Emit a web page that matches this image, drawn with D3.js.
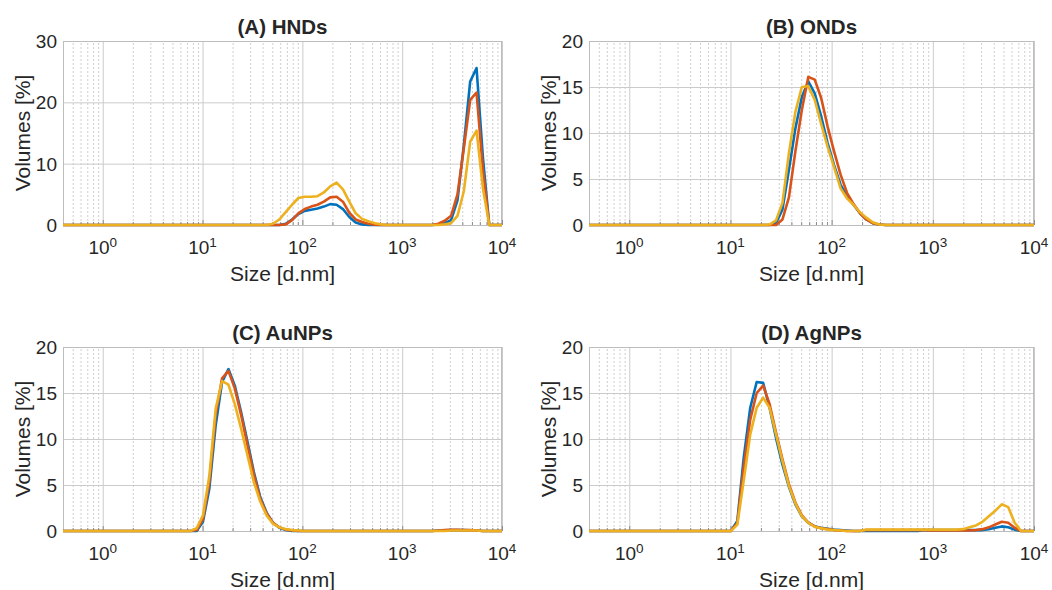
<!DOCTYPE html>
<html>
<head>
<meta charset="utf-8">
<script src="https://cdn.jsdelivr.net/npm/d3@7"></script>
<style>
  body { margin: 0; background: #fff; }
  text { font-family: "Liberation Sans", Arial, Helvetica, sans-serif; fill: #262626; }
</style>
</head>
<body>
<div id="chart"></div>
<script>
// size bins [d.nm]
var sizes = [
  0.4, 0.4632, 0.5365, 0.6213, 0.7195, 0.8332, 0.9649, 1.117, 1.294, 1.499,
  1.736, 2.01, 2.328, 2.696, 3.122, 3.615, 4.187, 4.849, 5.615, 6.503,
  7.531, 8.721, 10.1, 11.7, 13.54, 15.69, 18.17, 21.04, 24.36, 28.21,
  32.67, 37.84, 43.82, 50.75, 58.77, 68.06, 78.82, 91.28, 105.7, 122.4,
  141.8, 164.2, 190.1, 220.2, 255.0, 295.3, 342.0, 396.1, 458.7, 531.2,
  615.1, 712.4, 825.0, 955.4, 1106, 1281, 1484, 1718, 1990, 2305,
  2669, 3091, 3580, 4145, 4801, 5560, 6439, 7456, 8635, 10000
];

// (A) HNDs
var hndBlue = [
  0,0,0,0,0,0,0,0,0,0,
  0,0,0,0,0,0,0,0,0,0,
  0,0,0,0,0,0,0,0,0,0,
  0,0,0,0,0,0.2,0.9,1.8,2.3,2.5,
  2.7,3.0,3.4,3.3,2.6,1.3,0.4,0.1,0,0,
  0,0,0,0,0,0,0,0,0,0.1,
  0.3,0.8,4,13,23.4,25.6,11,0,0,0
];
var hndOrange = [
  0,0,0,0,0,0,0,0,0,0,
  0,0,0,0,0,0,0,0,0,0,
  0,0,0,0,0,0,0,0,0,0,
  0,0,0,0,0,0.1,0.8,1.9,2.6,3.0,
  3.3,3.8,4.5,4.6,3.8,2.0,0.9,0.5,0.2,0.05,
  0,0,0,0,0,0,0,0,0,0.2,
  0.7,1.5,5,12.5,20.4,21.6,9,0,0,0
];
var hndYellow = [
  0,0,0,0,0,0,0,0,0,0,
  0,0,0,0,0,0,0,0,0,0,
  0,0,0,0,0,0,0,0,0,0,
  0,0,0,0.2,0.9,2.1,3.3,4.4,4.6,4.6,
  4.7,5.3,6.3,6.9,5.8,3.8,1.9,1.0,0.6,0.3,
  0.1,0,0,0,0,0,0,0,0,0,
  0.1,0.3,1.5,5.5,13.6,15.4,6,0,0,0
];

// (B) ONDs
var ondBlue = [
  0,0,0,0,0,0,0,0,0,0,
  0,0,0,0,0,0,0,0,0,0,
  0,0,0,0,0,0,0,0,0,0.2,
  1.7,6,10.5,13.9,15.6,14.3,11.8,8.9,6.5,4.4,
  3.1,2.2,1.3,0.6,0.2,0.05,0,0,0,0,
  0,0,0,0,0,0,0,0,0,0,
  0,0,0,0,0,0,0,0,0,0
];
var ondOrange = [
  0,0,0,0,0,0,0,0,0,0,
  0,0,0,0,0,0,0,0,0,0,
  0,0,0,0,0,0,0,0,0,0,
  0.6,3,8,12.5,16.1,15.8,13.8,10.7,8.0,5.5,
  3.5,2.3,1.3,0.6,0.2,0.05,0,0,0,0,
  0,0,0,0,0,0,0,0,0,0,
  0,0,0,0,0,0,0,0,0,0
];
var ondYellow = [
  0,0,0,0,0,0,0,0,0,0,
  0,0,0,0,0,0,0,0,0,0,
  0,0,0,0,0,0,0,0,0.05,0.5,
  2.4,7.8,12.3,15.0,15.1,13.6,11.0,8.5,6.3,4.0,
  2.9,2.2,1.4,0.8,0.3,0.05,0,0,0,0,
  0,0,0,0,0,0,0,0,0,0,
  0,0,0,0,0,0,0,0,0,0
];

// (C) AuNPs
var auBlue = [
  0,0,0,0,0,0,0,0,0,0,
  0,0,0,0,0,0,0,0,0,0,
  0,0,1.0,4.6,11.5,16.2,17.6,15.8,12.9,9.7,
  6.4,3.7,2.0,0.9,0.35,0.1,0,0,0,0,
  0,0,0,0,0,0,0,0,0,0,
  0,0,0,0,0,0,0,0,0,0.05,
  0.08,0.1,0.1,0.1,0.08,0.05,0,0,0,0
];
var auOrange = [
  0,0,0,0,0,0,0,0,0,0,
  0,0,0,0,0,0,0,0,0,0,
  0,0.1,1.3,5.3,12.6,16.6,17.4,15.5,12.6,9.3,
  6.1,3.5,1.9,0.9,0.4,0.15,0.05,0,0,0,
  0,0,0,0,0,0,0,0,0,0,
  0,0,0,0,0,0,0,0,0,0.05,
  0.1,0.12,0.12,0.1,0.1,0.06,0,0,0,0
];
var auYellow = [
  0,0,0,0,0,0,0,0,0,0,
  0,0,0,0,0,0,0,0,0,0,
  0,0.3,1.7,6.0,13.3,16.3,15.9,13.8,11.1,8.2,
  5.3,3.2,1.7,0.8,0.4,0.2,0.1,0.05,0,0,
  0,0,0,0,0,0,0,0,0,0,
  0,0,0,0,0,0,0,0,0,0,
  0,0.05,0.05,0.05,0.05,0.05,0,0,0,0
];

// (D) AgNPs
var agBlue = [
  0,0,0,0,0,0,0,0,0,0,
  0,0,0,0,0,0,0,0,0,0,
  0,0,0,1.1,8,13.4,16.2,16.1,13.4,10.1,
  7.2,4.8,2.9,1.6,0.9,0.5,0.35,0.25,0.15,0.1,
  0.05,0,0,0,0,0,0,0,0,0,
  0,0,0.1,0.1,0.1,0.1,0.1,0.1,0.1,0.1,
  0.1,0.1,0.2,0.35,0.5,0.4,0.15,0,0,0
];
var agOrange = [
  0,0,0,0,0,0,0,0,0,0,
  0,0,0,0,0,0,0,0,0,0,
  0,0,0,0.9,7,12.1,15.0,15.8,13.8,10.7,
  7.8,5.1,3.1,1.7,0.9,0.5,0.3,0.2,0.1,0.05,
  0,0,0,0.1,0.1,0.1,0.1,0.1,0.1,0.1,
  0.1,0.1,0.1,0.05,0.05,0.05,0.05,0.05,0.05,0.05,
  0.1,0.2,0.4,0.7,1.0,0.9,0.35,0,0,0
];
var agYellow = [
  0,0,0,0,0,0,0,0,0,0,
  0,0,0,0,0,0,0,0,0,0,
  0,0,0,0.7,5.5,10.5,13.4,14.5,13.4,10.5,
  7.6,4.9,3.0,1.6,0.9,0.45,0.3,0.15,0.1,0.05,
  0,0,0,0.15,0.15,0.15,0.15,0.15,0.15,0.15,
  0.15,0.15,0.15,0.15,0.15,0.15,0.15,0.15,0.2,0.4,
  0.6,1.0,1.6,2.2,2.9,2.6,0.9,0,0,0
];

var titles = ["(A) HNDs", "(B) ONDs", "(C) AuNPs", "(D) AgNPs"];
var yMaxes = [30, 20, 20, 20];
var yTicks = [[0, 10, 20, 30], [0, 5, 10, 15, 20], [0, 5, 10, 15, 20], [0, 5, 10, 15, 20]];
var xMajor = [1, 10, 100, 1000, 10000];
var xMajorExp = ["0", "1", "2", "3", "4"];
var colors = ["#0072BD", "#D95319", "#EDB120"];

var allSeries = [
  [hndBlue, hndOrange, hndYellow],
  [ondBlue, ondOrange, ondYellow],
  [auBlue, auOrange, auYellow],
  [agBlue, agOrange, agYellow]
];

// plot boxes for the 2x2 layout
var boxes = [
  {left: 63, right: 502, top: 41, bottom: 225},
  {left: 589, right: 1034, top: 41, bottom: 225},
  {left: 63, right: 502, top: 347, bottom: 531},
  {left: 589, right: 1034, top: 347, bottom: 531}
];

// minor log grid positions
var xMinor = [];
[0.1, 1, 10, 100, 1000].forEach(function(dec) {
  for (var m = 2; m <= 9; m++) {
    var v = m * dec;
    if (v > 0.4 && v < 10000) xMinor.push(v);
  }
});

var svg = d3.select("#chart")
  .append("svg")
    .attr("width", 1052)
    .attr("height", 590);

boxes.forEach(function(b, k) {
  var w = b.right - b.left,
      h = b.bottom - b.top;

  var x = d3.scaleLog()
    .domain([0.4, 10000])
    .range([b.left, b.right]);
  var y = d3.scaleLinear()
    .domain([0, yMaxes[k]])
    .range([b.bottom, b.top]);

  var g = svg.append("g");

  // minor grid
  g.append("g")
    .attr("transform", "translate(0," + b.bottom + ")")
    .call(d3.axisBottom(x).tickValues(xMinor).tickSize(-h).tickFormat(""))
    .call(function(s) { s.select(".domain").remove(); })
    .selectAll("line")
      .attr("stroke", "#cfcfcf")
      .attr("stroke-dasharray", "2,2");

  // major grid
  g.append("g")
    .attr("transform", "translate(0," + b.bottom + ")")
    .call(d3.axisBottom(x).tickValues(xMajor).tickSize(-h).tickFormat(""))
    .call(function(s) { s.select(".domain").remove(); })
    .selectAll("line")
      .attr("stroke", "#cbcbcb");

  g.append("g")
    .attr("transform", "translate(" + b.left + ",0)")
    .call(d3.axisLeft(y).tickValues(yTicks[k]).tickSize(-w).tickFormat(""))
    .call(function(s) { s.select(".domain").remove(); })
    .selectAll("line")
      .attr("stroke", "#cbcbcb");

  // small inward ticks along the bottom
  g.append("g")
    .attr("transform", "translate(0," + b.bottom + ")")
    .call(d3.axisBottom(x).tickValues(xMinor).tickSize(-3).tickFormat(""))
    .call(function(s) { s.select(".domain").remove(); })
    .selectAll("line")
      .attr("stroke", "#8c8c8c");
  g.append("g")
    .attr("transform", "translate(0," + b.bottom + ")")
    .call(d3.axisBottom(x).tickValues(xMajor).tickSize(-5).tickFormat(""))
    .call(function(s) { s.select(".domain").remove(); })
    .selectAll("line")
      .attr("stroke", "#8c8c8c");

  // box
  g.append("rect")
    .attr("x", b.left + 0.5)
    .attr("y", b.top + 0.5)
    .attr("width", w - 1)
    .attr("height", h)
    .attr("fill", "none")
    .attr("stroke", "#bdbdbd");

  // clip
  svg.append("clipPath")
    .attr("id", "clip" + k)
    .append("rect")
      .attr("x", b.left - 1)
      .attr("y", b.top)
      .attr("width", w + 2)
      .attr("height", h + 2);

  var line = d3.line()
    .x(function(d, i) { return x(sizes[i]); })
    .y(function(d) { return y(d); });

  g.append("g")
    .attr("clip-path", "url(#clip" + k + ")")
    .selectAll("path")
    .data(allSeries[k])
    .enter()
    .append("path")
      .attr("d", line)
      .attr("fill", "none")
      .attr("stroke", function(d, i) { return colors[i]; })
      .attr("stroke-width", 2.6)
      .attr("stroke-linejoin", "round");

  // y tick labels
  g.selectAll(".ylab")
    .data(yTicks[k])
    .enter()
    .append("text")
      .attr("x", b.left - 6)
      .attr("y", function(d) { return y(d); })
      .attr("dy", "0.36em")
      .attr("text-anchor", "end")
      .style("font-size", "19px")
      .text(function(d) { return d; });

  // x tick labels 10^n
  var xl = g.selectAll(".xlab")
    .data(xMajor)
    .enter()
    .append("text")
      .attr("x", function(d) { return x(d); })
      .attr("y", b.bottom + 29)
      .attr("text-anchor", "middle")
      .style("font-size", "19px");
  xl.append("tspan").text("10");
  xl.append("tspan")
    .attr("dy", "-0.55em")
    .style("font-size", "13.5px")
    .text(function(d, i) { return xMajorExp[i]; });

  // axis labels and title
  g.append("text")
    .attr("x", (b.left + b.right) / 2)
    .attr("y", b.bottom + 56)
    .attr("text-anchor", "middle")
    .style("font-size", "21px")
    .text("Size [d.nm]");

  g.append("text")
    .attr("transform", "translate(" + (b.left - 33) + "," + ((b.top + b.bottom) / 2) + ") rotate(-90)")
    .attr("text-anchor", "middle")
    .style("font-size", "21px")
    .text("Volumes [%]");

  g.append("text")
    .attr("x", (b.left + b.right) / 2)
    .attr("y", b.top - 7)
    .attr("text-anchor", "middle")
    .style("font-size", "20.5px")
    .style("font-weight", "bold")
    .text(titles[k]);
});
</script>
</body>
</html>
